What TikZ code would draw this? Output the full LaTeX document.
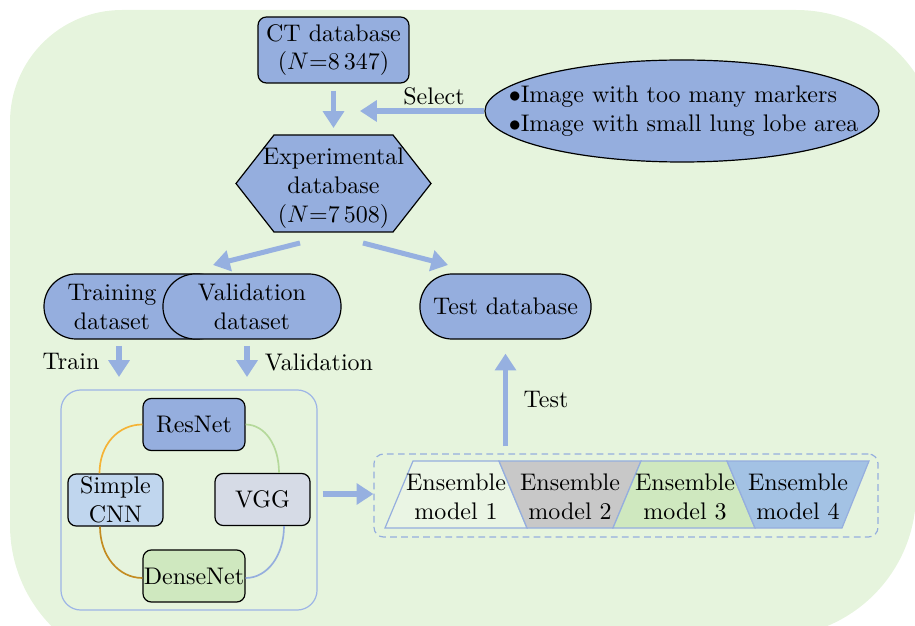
\documentclass[tikz,border=0pt]{standalone}
\usetikzlibrary{arrows.meta,shapes.geometric,calc}
\definecolor{bggreen}{HTML}{E6F4DD}
\definecolor{dbblue}{HTML}{95AEDE}
\definecolor{flowblue}{HTML}{96B0E0}
\definecolor{contblue}{HTML}{9DB5E6}
\definecolor{cnnfill}{HTML}{C0D6EE}
\definecolor{vggfill}{HTML}{D6DBE6}
\definecolor{densefill}{HTML}{CFE8BF}
\definecolor{mgray}{HTML}{C8C8C8}
\definecolor{mlight}{HTML}{EAF5E4}
\definecolor{mblue}{HTML}{A3C2E4}
\definecolor{corange}{HTML}{F5B335}
\definecolor{cgreen}{HTML}{B5D99B}
\definecolor{cgold}{HTML}{C38C21}
\begin{document}
\begin{tikzpicture}[x=0.41667pt, y=-0.41667pt,
  dbnode/.style={draw=black, line width=0.5pt, fill=dbblue, align=center, inner sep=0pt},
  roundbox/.style={dbnode, rounded corners=3.5pt},
  stadium/.style={dbnode, minimum height=27.1pt, rounded corners=13.5pt},
  netbox/.style={roundbox, minimum height=21.7pt},
  flow/.style={draw=flowblue, line width=2.1pt, -{Triangle[width=8.6pt,length=7pt]}},
  link/.style={line width=0.7pt},
  trap/.style={draw=dbblue, line width=0.5pt},
  lbl/.style={inner sep=0pt}]
\useasboundingbox (0,0) rectangle (915,626);
\clip (0,0) rectangle (915,626);

% background panel
\fill[bggreen] (10,525) -- (10,122) arc[start angle=180, end angle=270, radius=112]
  -- (796,10) arc[start angle=270, end angle=360, radius=144]
  -- (916,493) arc[start angle=0, end angle=90, radius=144]
  -- (154,669) arc[start angle=90, end angle=180, radius=144] -- cycle;

% source database
\node[roundbox, minimum width=62.9pt, minimum height=27.5pt] (ct) at (333.5,50)
  {CT database\\($N{=}8\,347$)};

% exclusion criteria
\node[ellipse, draw=black, line width=0.5pt, fill=dbblue, minimum width=164.2pt,
  minimum height=42.5pt, inner sep=0pt] (sel) at (682,111) {};
\node[lbl, align=left] (seltxt) at (683.5,111.5)
  {$\bullet$Image with too many markers\\$\bullet$Image with small lung lobe area};
\coordinate (selTip) at (360,111);
\draw[flow] (sel.west) -- (selTip);
\node[lbl] (selLbl) at (434,96) {Select};

% experimental database (hexagon)
\coordinate (expc) at (333.5,183.5);
\draw[line width=0.5pt, fill=dbblue] ($(expc)+(-97.5,0)$) -- ++(38,-48.5) -- ++(119,0)
  -- ++(38,48.5) -- ++(-38,48.5) -- ++(-119,0) -- cycle;
\node[lbl, align=center] (exp) at ($(expc)+(0,4.5)$) {Experimental\\database\\($N{=}7\,508$)};
\draw[flow] ($(ct.south)+(0,7)$) -- ($(expc)+(0,-55.5)$);

% splits
\node[stadium, minimum width=77.5pt] (train) at (137,306.5) {};
\node[lbl, align=center] (trainTxt) at (112,307) {Training\\dataset};
\node[stadium, minimum width=74.2pt] (val) at (252,306.5) {Validation\\dataset};
\node[stadium, minimum width=71.3pt] (test) at (505.5,306.5) {Test database};

\coordinate (splitL) at (213,265);
\coordinate (splitR) at (448,265);
\draw[flow] ($(expc)+(-33.5,59.5)$) -- (splitL);
\draw[flow] ($(expc)+(29.5,59.5)$) -- (splitR);

% train / validation arrows
\coordinate (trA) at (119,346);
\coordinate (trB) at (119,377);
\coordinate (vaA) at (247,346);
\coordinate (vaB) at (247,377);
\draw[flow] (trA) -- (trB);
\draw[flow] (vaA) -- (vaB);
\node[lbl] (trLbl) at (71,362) {Train};
\node[lbl] (vaLbl) at (319,362) {Validation};

% model container
\node[draw=contblue, line width=0.5pt, rounded corners=8.3pt, minimum width=106.7pt,
  minimum height=91.7pt] (cont) at (189,500) {};
\node[netbox, minimum width=42.5pt] (res) at (194,424.5) {ResNet};
\node[netbox, minimum width=39.6pt, fill=cnnfill] (cnn) at (115.5,500) {Simple\\CNN};
\node[netbox, minimum width=39.6pt, fill=vggfill] (vgg) at (262.5,499.5) {VGG};
\node[netbox, minimum width=42.5pt, fill=densefill] (dense) at (194,576) {DenseNet};

\draw[link, corange] (res.west) .. controls +(-24,0) and +(0,-29) .. ($(cnn.north)+(-16,0)$);
\draw[link, cgreen] (res.east) .. controls +(19,0) and +(0,-28) .. ($(vgg.north)+(16.5,0)$);
\draw[link, cgold] ($(cnn.south)+(-15.5,0)$) .. controls +(0,29) and +(-24,0) .. ($(dense.west)+(0,2)$);
\draw[link, dbblue] ($(vgg.south)+(21.5,0)$) .. controls +(0,29) and +(22,0) .. ($(dense.east)+(0,2)$);

% ensemble models
\node[draw=dbblue, line width=0.5pt, dash pattern=on 2.8pt off 1.8pt, rounded corners=4pt,
  minimum width=210pt, minimum height=34.6pt] (ens) at (626,495.5) {};
\draw[flow] ($(cont.east |- ens.west)+(5,-1.5)$) -- ($(ens.west)+(0,-1.5)$);

\draw[trap, fill=mlight] (413,461) -- (499,461) -- (527,528) -- (385,528) -- cycle;
\draw[trap, fill=mgray]  (499,461) -- (641,461) -- (613,528) -- (527,528) -- cycle;
\draw[trap, fill=densefill] (641,461) -- (727,461) -- (755,528) -- (613,528) -- cycle;
\draw[trap, fill=mblue]  (727,461) -- (869,461) -- (842,528) -- (755,528) -- cycle;
\node[lbl, align=center] (m1) at (456,497) {Ensemble\\model 1};
\node[lbl, align=center] (m2) at (570,497) {Ensemble\\model 2};
\node[lbl, align=center] (m3) at (685,497) {Ensemble\\model 3};
\node[lbl, align=center] (m4) at (798,497) {Ensemble\\model 4};

\draw[flow] ($(test.south |- ens.north)+(0,-7)$) -- ($(test.south)+(0,14)$);
\node[lbl] (testLbl) at (546,400) {Test};
\end{tikzpicture}
\end{document}
